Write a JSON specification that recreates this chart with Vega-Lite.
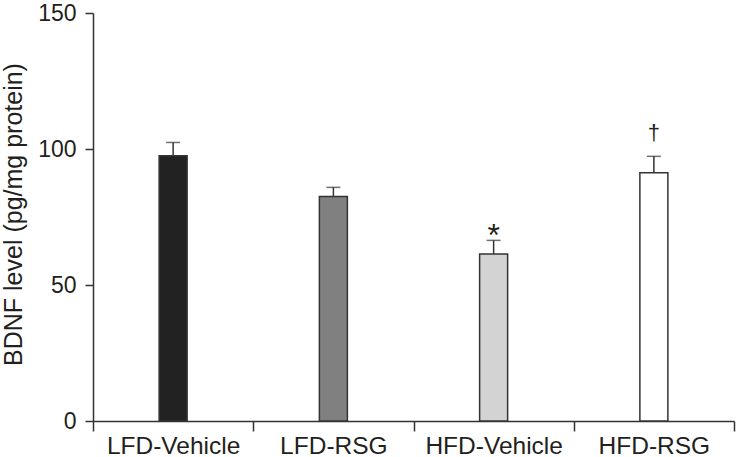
{
  "$schema": "https://vega.github.io/schema/vega-lite/v6.json",
  "width": 641,
  "height": 408,
  "autosize": {"type": "none"},
  "padding": {"left": 93, "top": 13, "right": 2, "bottom": 36},
  "background": "white",
  "config": {
    "view": {"stroke": null},
    "font": "Liberation Sans",
    "text": {"font": "Liberation Sans"}
  },
  "data": {
    "values": [
      {"group": "LFD-Vehicle", "mean": 97.5, "upper": 102.4, "sig": ""},
      {"group": "LFD-RSG", "mean": 82.5, "upper": 85.9, "sig": ""},
      {"group": "HFD-Vehicle", "mean": 61.4, "upper": 66.4, "sig": "*"},
      {"group": "HFD-RSG", "mean": 91.3, "upper": 97.3, "sig": "†"}
    ]
  },
  "encoding": {
    "x": {
      "field": "group",
      "type": "nominal",
      "sort": null,
      "scale": {"paddingInner": 0, "paddingOuter": 0},
      "axis": {
        "title": null,
        "labelAngle": 0,
        "labelFontSize": 24.5,
        "labelColor": "#231f20",
        "labelBaseline": "alphabetic",
        "labelPadding": 22,
        "domainColor": "#333333",
        "domainWidth": 1.5,
        "tickColor": "#333333",
        "tickWidth": 1.5,
        "tickSize": 10,
        "tickBand": "extent"
      }
    }
  },
  "layer": [
    {
      "mark": {"type": "rule", "color": "#333333", "strokeWidth": 1.5},
      "encoding": {
        "y": {"field": "mean", "type": "quantitative"},
        "y2": {"field": "upper"}
      }
    },
    {
      "mark": {"type": "tick", "color": "#333333", "thickness": 1.5, "size": 14, "orient": "horizontal"},
      "encoding": {
        "y": {"field": "upper", "type": "quantitative"}
      }
    },
    {
      "mark": {"type": "bar", "size": 28, "stroke": "#333333", "strokeWidth": 1.5},
      "encoding": {
        "y": {
          "field": "mean",
          "type": "quantitative",
          "scale": {"domain": [0, 150], "nice": false},
          "axis": {
            "title": "BDNF level (pg/mg protein)",
            "titleFontSize": 25,
            "titleFontWeight": "normal",
            "titleColor": "#231f20",
            "titleX": -72,
            "titleY": 201,
            "titleAlign": "center",
            "titleBaseline": "alphabetic",
            "values": [0, 50, 100, 150],
            "grid": false,
            "labelFontSize": 23,
            "labelColor": "#231f20",
            "labelPadding": 9,
            "domainColor": "#333333",
            "domainWidth": 1.5,
            "tickColor": "#333333",
            "tickWidth": 1.5,
            "tickSize": 8
          }
        },
        "fill": {
          "field": "group",
          "type": "nominal",
          "sort": null,
          "scale": {
            "domain": ["LFD-Vehicle", "LFD-RSG", "HFD-Vehicle", "HFD-RSG"],
            "range": ["#222222", "#808080", "#d3d3d3", "#ffffff"]
          },
          "legend": null
        }
      }
    },
    {
      "transform": [{"filter": "datum.sig === '*'"}],
      "mark": {"type": "text", "fontSize": 32, "baseline": "alphabetic", "dy": 6, "color": "#231f20"},
      "encoding": {
        "y": {"field": "upper", "type": "quantitative"},
        "text": {"field": "sig"}
      }
    },
    {
      "transform": [{"filter": "datum.sig === '†'"}],
      "mark": {"type": "text", "fontSize": 22, "baseline": "alphabetic", "dy": -16, "color": "#231f20"},
      "encoding": {
        "y": {"field": "upper", "type": "quantitative"},
        "text": {"field": "sig"}
      }
    }
  ]
}
